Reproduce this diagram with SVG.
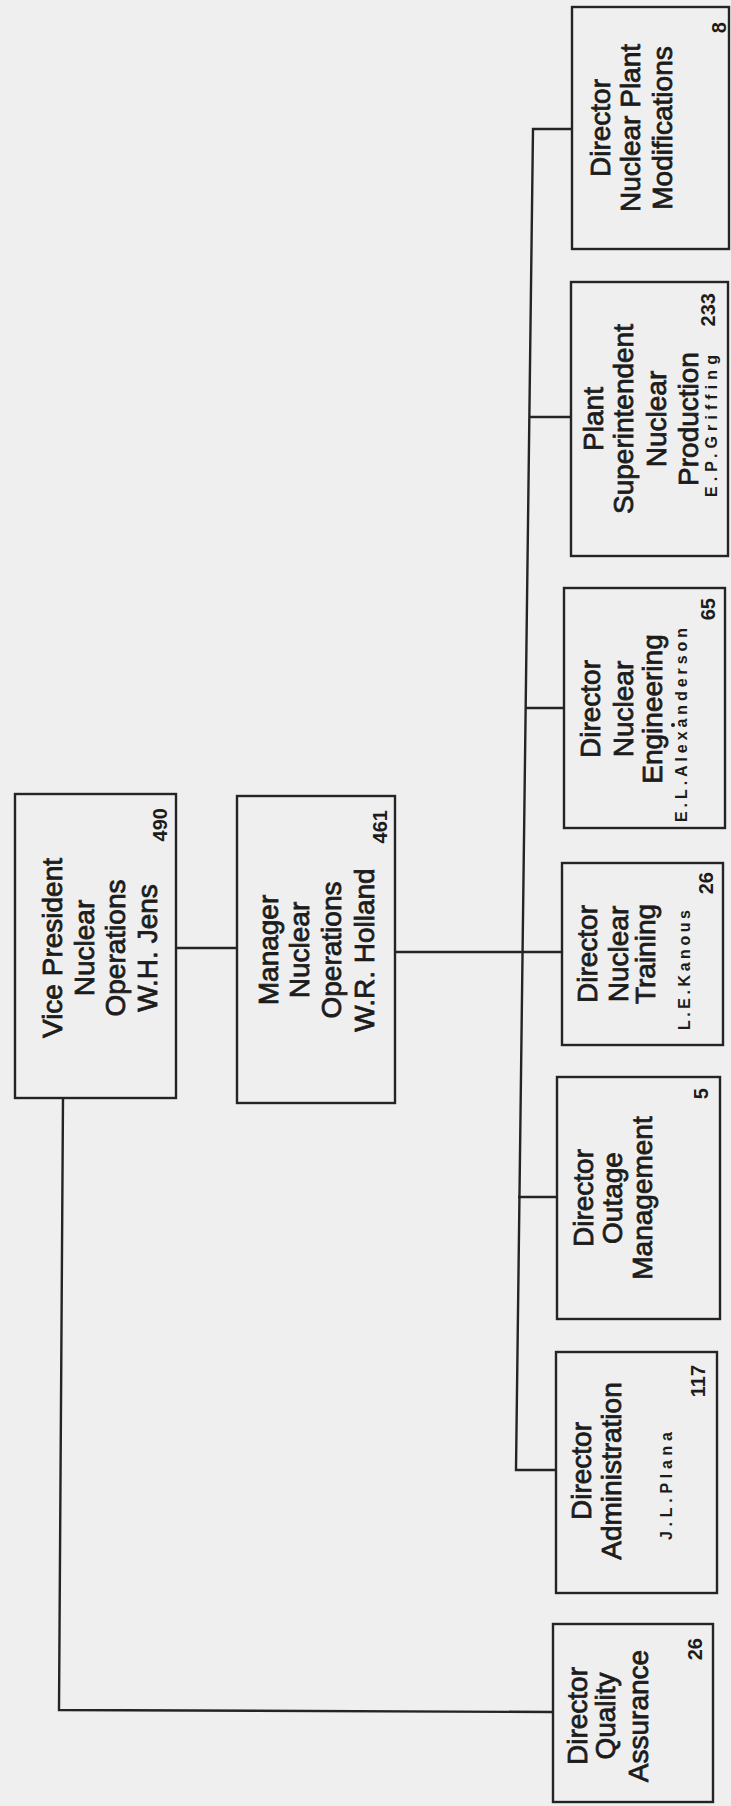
<svg xmlns="http://www.w3.org/2000/svg" width="731" height="1806" viewBox="0 0 731 1806">
<style>
.bg{fill:#efefef}
.box{fill:none;stroke:#242424;stroke-width:2.4}
.c{fill:none;stroke:#242424;stroke-width:2.4}
.t{font-family:"Liberation Sans",Arial,sans-serif;font-size:28px;fill:#1c1c1c;stroke:#1c1c1c;stroke-width:0.8;text-anchor:middle}
.n{font-family:"Liberation Sans",Arial,sans-serif;font-weight:bold;font-size:20px;fill:#1c1c1c;text-anchor:end}
.nm{font-family:"Liberation Sans",Arial,sans-serif;font-weight:bold;font-size:16px;fill:#1c1c1c;text-anchor:middle}
</style>
<rect class="bg" x="0" y="0" width="731" height="1806"/>
<g id="connectors">
<line class="c" x1="176" y1="948" x2="237" y2="948"/>
<line class="c" x1="395" y1="952" x2="562" y2="952"/>
<polyline class="c" points="572,129 533,129 516,1470 556,1470"/>
<line class="c" x1="530" y1="417" x2="571" y2="417"/>
<line class="c" x1="526" y1="708" x2="564" y2="708"/>
<line class="c" x1="518" y1="1197" x2="557" y2="1197"/>
<polyline class="c" points="63,1098 59,1710 553,1712"/>
</g>
<g id="vp">
<rect class="box" x="15" y="794" width="161" height="304"/>
<text class="t" transform="translate(62 948) rotate(-90)">Vice President</text>
<text class="t" transform="translate(94 948) rotate(-90)">Nuclear</text>
<text class="t" transform="translate(125 948) rotate(-90)">Operations</text>
<text class="t" transform="translate(157 948) rotate(-90)">W.H. Jens</text>
<text class="n" transform="translate(167 808) rotate(-90)">490</text>
</g>
<g id="manager">
<rect class="box" x="237" y="796" width="158" height="307"/>
<text class="t" transform="translate(278 950) rotate(-90)">Manager</text>
<text class="t" transform="translate(309 950) rotate(-90)">Nuclear</text>
<text class="t" transform="translate(341 950) rotate(-90)">Operations</text>
<text class="t" transform="translate(374 950) rotate(-90)">W.R. Holland</text>
<text class="n" transform="translate(387 810) rotate(-90)">461</text>
</g>
<g id="modifications">
<rect class="box" x="572" y="7" width="157" height="242"/>
<text class="t" transform="translate(610 128) rotate(-90)">Director</text>
<text class="t" transform="translate(640 128) rotate(-90)">Nuclear Plant</text>
<text class="t" transform="translate(672 128) rotate(-90)">Modifications</text>
<text class="n" transform="translate(726 22) rotate(-90)">8</text>
</g>
<g id="production">
<rect class="box" x="571" y="282" width="157" height="274"/>
<text class="t" transform="translate(603 419) rotate(-90)">Plant</text>
<text class="t" transform="translate(633 419) rotate(-90)">Superintendent</text>
<text class="t" transform="translate(666 419) rotate(-90)">Nuclear</text>
<text class="t" transform="translate(698 419) rotate(-90)">Production</text>
<text class="nm" transform="translate(717 426) rotate(-90)" textLength="142" lengthAdjust="spacing">E.P.Griffing</text>
<text class="n" transform="translate(715 293) rotate(-90)">233</text>
</g>
<g id="engineering">
<rect class="box" x="564" y="588" width="161" height="240"/>
<text class="t" transform="translate(600 709) rotate(-90)">Director</text>
<text class="t" transform="translate(633 709) rotate(-90)">Nuclear</text>
<text class="t" transform="translate(662 709) rotate(-90)">Engineering</text>
<circle cx="673" cy="725" r="2" fill="#1c1c1c"/>
<text class="nm" transform="translate(687 725) rotate(-90)" textLength="194" lengthAdjust="spacing">E.L.Alexanderson</text>
<text class="n" transform="translate(715 598) rotate(-90)">65</text>
</g>
<g id="training">
<rect class="box" x="562" y="863" width="161" height="182"/>
<text class="t" transform="translate(597 954) rotate(-90)">Director</text>
<text class="t" transform="translate(628 954) rotate(-90)">Nuclear</text>
<text class="t" transform="translate(655 954) rotate(-90)">Training</text>
<text class="nm" transform="translate(690 970) rotate(-90)" textLength="120" lengthAdjust="spacing">L.E.Kanous</text>
<text class="n" transform="translate(713 872) rotate(-90)">26</text>
</g>
<g id="outage">
<rect class="box" x="557" y="1077" width="163" height="242"/>
<text class="t" transform="translate(593 1198) rotate(-90)">Director</text>
<text class="t" transform="translate(622 1198) rotate(-90)">Outage</text>
<text class="t" transform="translate(652 1198) rotate(-90)">Management</text>
<text class="n" transform="translate(708 1088) rotate(-90)">5</text>
</g>
<g id="administration">
<rect class="box" x="556" y="1352" width="161" height="241"/>
<text class="t" transform="translate(591 1471) rotate(-90)">Director</text>
<text class="t" transform="translate(621 1471) rotate(-90)">Administration</text>
<text class="nm" transform="translate(672 1486) rotate(-90)" textLength="108" lengthAdjust="spacing">J.L.Plana</text>
<text class="n" transform="translate(705 1365) rotate(-90)">117</text>
</g>
<g id="qa">
<rect class="box" x="553" y="1624" width="160" height="178"/>
<text class="t" transform="translate(587 1716) rotate(-90)">Director</text>
<text class="t" transform="translate(615 1716) rotate(-90)">Quality</text>
<text class="t" transform="translate(648 1716) rotate(-90)">Assurance</text>
<text class="n" transform="translate(702 1638) rotate(-90)">26</text>
</g>
</svg>
